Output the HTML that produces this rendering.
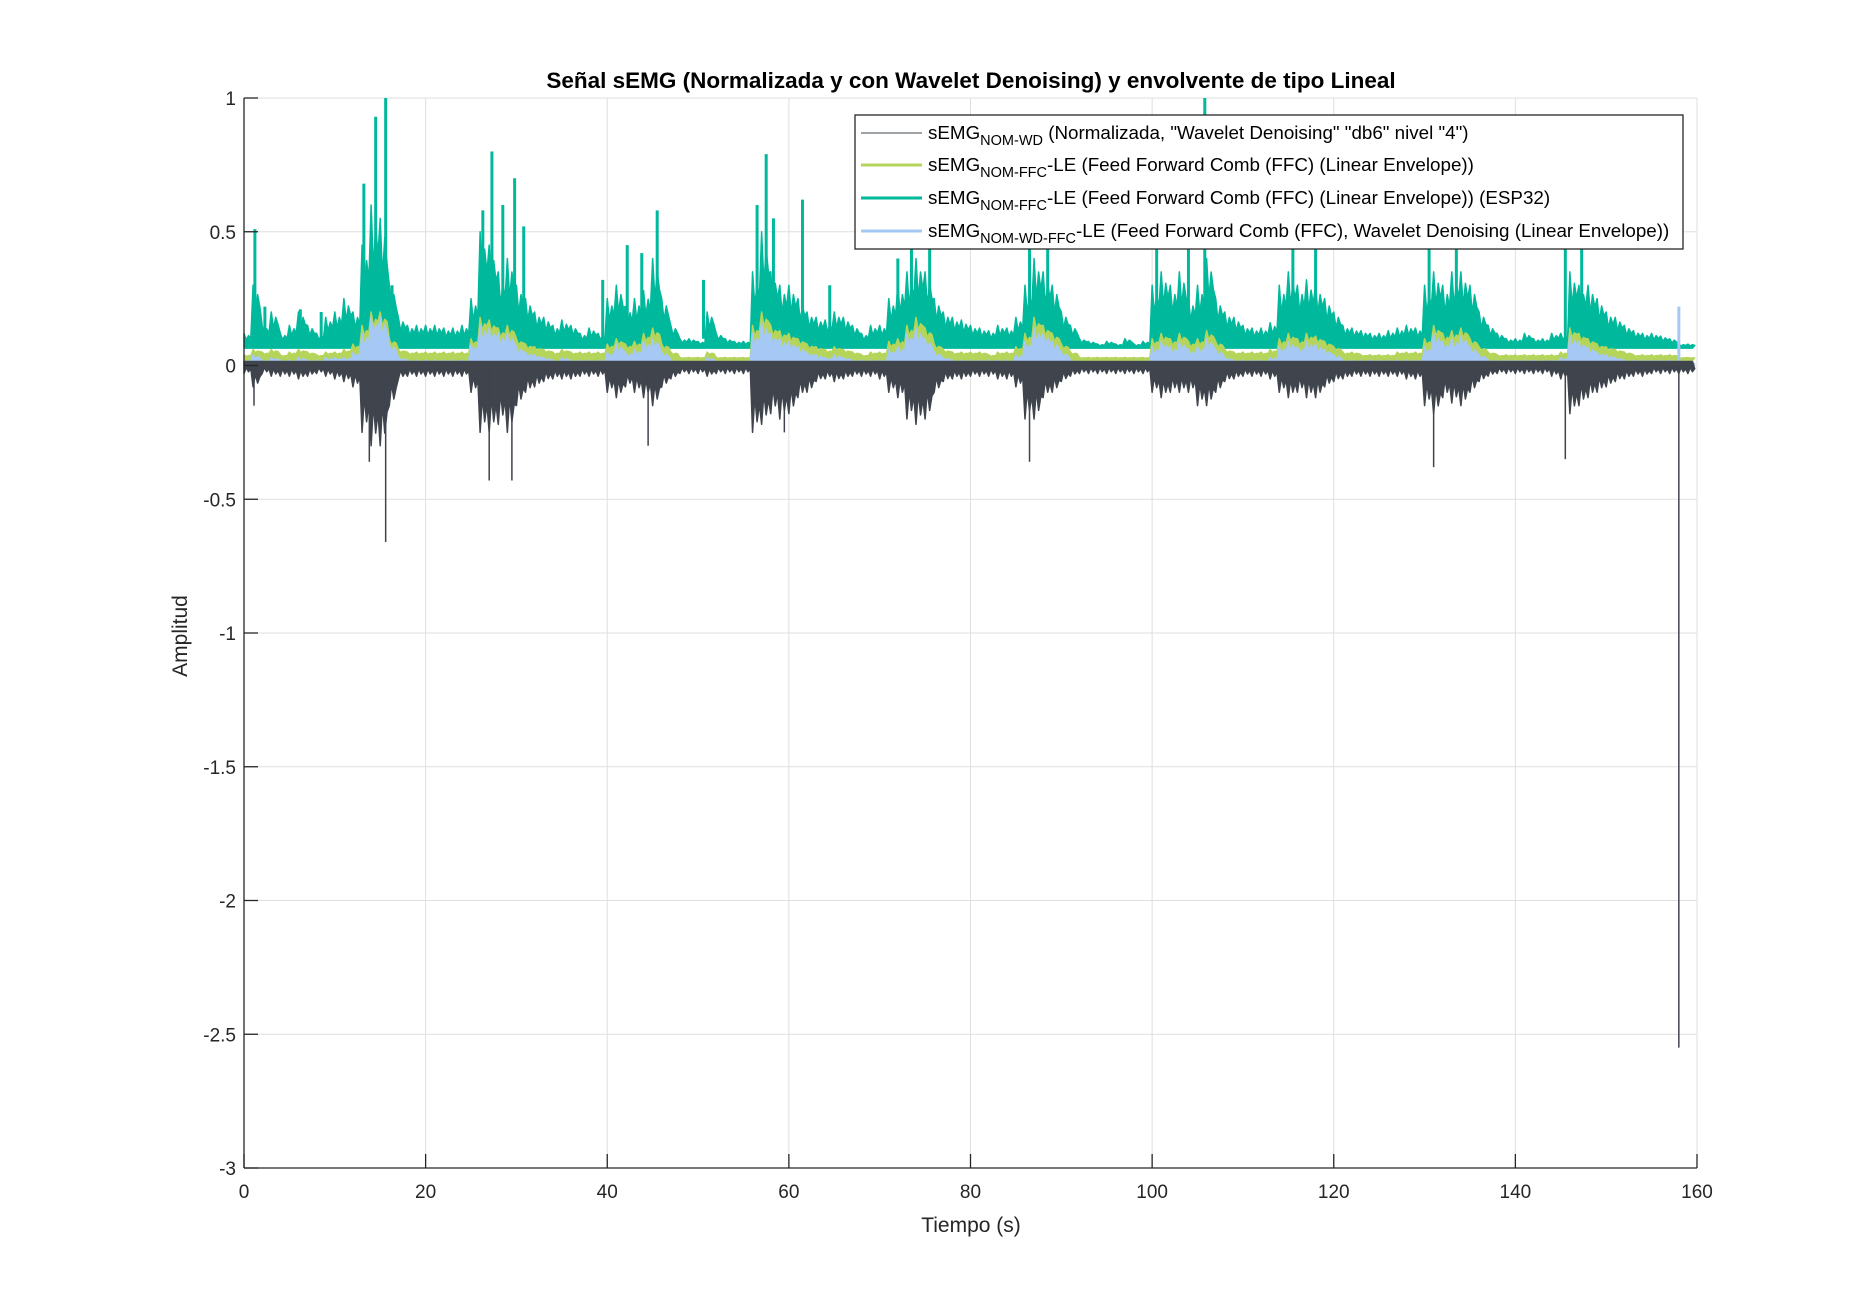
<!DOCTYPE html>
<html><head><meta charset="utf-8"><style>
html,body{margin:0;padding:0;background:#fff}
svg{display:block;font-family:"Liberation Sans",Arial,sans-serif}
</style></head><body>
<svg id="chart" width="1875" height="1313" viewBox="0 0 1875 1313" xmlns="http://www.w3.org/2000/svg">
<rect width="1875" height="1313" fill="#fff"/>
<g id="grid"></g>
<g id="series"></g>
<g id="axes"></g>
<text x="971" y="88" text-anchor="middle" font-size="22.5" font-weight="bold" fill="#000">Señal sEMG (Normalizada y con Wavelet Denoising) y envolvente de tipo Lineal</text>
<text x="971" y="1232" text-anchor="middle" font-size="21" fill="#262626">Tiempo (s)</text>
<text transform="translate(187,636) rotate(-90)" text-anchor="middle" font-size="21" fill="#262626">Amplitud</text>
<g>
<rect x="855" y="115" width="828" height="134" fill="#fff" stroke="#262626" stroke-width="1.3"/>
<g>
<line x1="861" y1="133" x2="922" y2="133" stroke="#3f444d" stroke-width="1"/>
<text x="928" y="139" font-size="18.8" fill="#000">sEMG<tspan dy="6" font-size="14.5">NOM-WD</tspan><tspan dy="-6"> (Normalizada, "Wavelet Denoising" "db6" nivel "4")</tspan></text></g>
<g>
<line x1="861" y1="165" x2="922" y2="165" stroke="#b4d55a" stroke-width="3"/>
<text x="928" y="171" font-size="18.8" fill="#000">sEMG<tspan dy="6" font-size="14.5">NOM-FFC</tspan><tspan dy="-6">-LE (Feed Forward Comb (FFC) (Linear Envelope))</tspan></text></g>
<g>
<line x1="861" y1="198" x2="922" y2="198" stroke="#00b89b" stroke-width="3"/>
<text x="928" y="204" font-size="18.8" fill="#000">sEMG<tspan dy="6" font-size="14.5">NOM-FFC</tspan><tspan dy="-6">-LE (Feed Forward Comb (FFC) (Linear Envelope)) (ESP32)</tspan></text></g>
<g>
<line x1="861" y1="231" x2="922" y2="231" stroke="#a6c8f5" stroke-width="3"/>
<text x="928" y="237" font-size="18.8" fill="#000">sEMG<tspan dy="6" font-size="14.5">NOM-WD-FFC</tspan><tspan dy="-6">-LE (Feed Forward Comb (FFC), Wavelet Denoising (Linear Envelope))</tspan></text></g>
</g>
</svg>
<script>
const xTicks=[0,20,40,60,80,100,120,140,160];
const yTicks=[1,0.5,0,-0.5,-1,-1.5,-2,-2.5,-3];
const yTickLabels=["1","0.5","0","-0.5","-1","-1.5","-2","-2.5","-3"];
// per-second upper envelope of ESP32 teal series
const tealUpper=[.12,.3,.15,.2,.12,.15,.2,.15,.12,.18,.2,.25,.2,.45,.6,.55,.3,.18,.15,.15,.15,.15,.14,.14,.15,.25,.5,.45,.35,.4,.3,.25,.2,.18,.15,.17,.15,.12,.14,.12,.25,.3,.22,.25,.28,.4,.25,.15,.1,.1,.09,.2,.12,.1,.09,.09,.35,.5,.35,.3,.3,.25,.2,.18,.17,.2,.18,.15,.12,.15,.15,.25,.3,.35,.4,.35,.25,.2,.18,.17,.15,.14,.13,.15,.14,.18,.3,.4,.35,.3,.2,.15,.1,.09,.08,.09,.08,.1,.08,.09,.3,.35,.3,.35,.25,.3,.4,.25,.2,.18,.15,.14,.14,.16,.3,.35,.3,.32,.3,.25,.2,.15,.14,.13,.12,.12,.13,.14,.15,.14,.3,.35,.3,.35,.35,.3,.2,.15,.12,.1,.1,.12,.1,.1,.12,.12,.35,.3,.3,.25,.2,.18,.15,.13,.12,.12,.11,.1,.08,.08];
const tealFloor=0.065;
const tealSpikeT=[1.2,2.3,6.2,8.5,13.2,14.5,15.6,16.3,26.3,27.3,28.5,29.8,30.8,39.5,42.2,43.8,45.5,50.6,56.5,57.5,58.3,61.5,64.5,72,73.5,75.5,86.5,88.5,100.5,104,105.8,115.5,118,130.5,133.5,145.5,147.3];
const tealSpikeV=[.51,.22,.21,.2,.68,.93,1.0,.3,.58,.8,.6,.7,.52,.32,.45,.42,.58,.32,.6,.79,.55,.62,.3,.4,.5,.48,.5,.45,.48,.48,1.0,.5,.48,.47,.5,.48,.45];
// green FFC-LE upper
const greenUpper=[.04,.06,.05,.06,.04,.05,.06,.05,.04,.05,.05,.06,.08,.15,.2,.2,.1,.06,.05,.05,.05,.05,.05,.05,.05,.1,.18,.17,.14,.15,.1,.08,.07,.06,.05,.06,.05,.05,.05,.05,.08,.1,.08,.09,.12,.14,.08,.05,.03,.03,.03,.05,.03,.03,.03,.03,.15,.2,.15,.13,.12,.1,.08,.07,.06,.07,.06,.05,.04,.05,.05,.09,.1,.15,.18,.14,.08,.06,.05,.05,.05,.05,.04,.05,.05,.07,.12,.18,.15,.12,.08,.05,.03,.03,.03,.03,.03,.03,.03,.03,.1,.12,.1,.12,.09,.1,.13,.09,.06,.05,.05,.05,.05,.06,.1,.12,.1,.12,.11,.09,.07,.05,.05,.04,.04,.04,.04,.05,.05,.05,.1,.15,.12,.13,.14,.1,.07,.05,.04,.04,.04,.04,.04,.04,.04,.05,.14,.12,.1,.08,.07,.06,.05,.04,.04,.04,.04,.04,.03,.03];
const greenFloor=0.02;
// blue WD-FFC-LE upper
const blueUpper=[.02,.04,.02,.03,.02,.02,.03,.02,.02,.03,.03,.03,.05,.12,.18,.18,.08,.03,.02,.02,.02,.02,.02,.02,.02,.08,.15,.14,.12,.12,.07,.05,.04,.03,.02,.03,.02,.02,.02,.02,.05,.08,.05,.06,.09,.1,.05,.02,.01,.01,.01,.03,.01,.01,.01,.01,.12,.16,.12,.1,.09,.07,.05,.04,.03,.04,.03,.02,.02,.02,.02,.06,.07,.12,.14,.1,.05,.03,.02,.02,.02,.02,.02,.02,.02,.04,.09,.14,.12,.09,.05,.02,.01,.01,.01,.01,.01,.01,.01,.01,.07,.09,.07,.09,.06,.07,.1,.06,.03,.02,.02,.02,.02,.03,.07,.09,.07,.09,.08,.06,.04,.02,.02,.02,.02,.02,.02,.02,.02,.02,.07,.12,.09,.1,.11,.07,.04,.02,.02,.02,.02,.02,.02,.02,.02,.03,.11,.09,.07,.05,.04,.03,.02,.02,.02,.02,.02,.02,.01,.01];
const blueSpikeT=[158];
const blueSpikeV=[0.22];
// dark WD signal negative extent
const darkNeg=[.03,.08,.03,.04,.04,.04,.05,.04,.03,.04,.05,.06,.08,.25,.3,.3,.15,.05,.04,.04,.04,.04,.04,.04,.04,.1,.25,.25,.22,.25,.15,.1,.08,.06,.05,.05,.05,.04,.04,.04,.1,.12,.08,.1,.12,.15,.08,.05,.03,.03,.03,.04,.03,.03,.03,.03,.25,.22,.18,.2,.18,.12,.1,.06,.05,.06,.05,.04,.04,.04,.05,.1,.12,.2,.22,.2,.1,.06,.05,.05,.04,.04,.04,.05,.05,.08,.2,.2,.12,.1,.06,.04,.03,.03,.03,.03,.03,.03,.03,.03,.1,.12,.1,.1,.1,.15,.15,.1,.06,.05,.04,.04,.04,.05,.1,.12,.1,.12,.12,.08,.06,.05,.04,.04,.04,.04,.04,.04,.05,.05,.15,.18,.12,.14,.15,.1,.06,.04,.03,.03,.03,.03,.03,.03,.04,.05,.18,.15,.12,.1,.08,.06,.05,.04,.04,.03,.03,.03,.03,.03];
const darkPos=0.015;
const darkSpikeT=[1.1,13.8,15.6,27,29.5,44.5,59.5,86.5,131,145.5,158];
const darkSpikeV=[-.15,-.36,-.66,-.43,-.43,-.3,-.25,-.36,-.38,-.35,-2.55];

const X0=244,X1=1697,YT=98,YB=1168;
const xs=t=>X0+(t-0)/(160-0)*(X1-X0);
const ys=v=>YT+(1-v)/(1-(-3))*(YB-YT);
const NS="http://www.w3.org/2000/svg";
function mk(tag,attrs,parent){const e=document.createElementNS(NS,tag);for(const k in attrs)e.setAttribute(k,attrs[k]);parent.appendChild(e);return e;}
const grid=document.getElementById('grid'),axes=document.getElementById('axes'),ser=document.getElementById('series');
xTicks.forEach(t=>{
  const l=mk('line',{x1:xs(t),x2:xs(t),y1:YT,y2:YB,stroke:'#dfdfdf','stroke-width':1},grid);
  
  
  mk('line',{x1:xs(t),x2:xs(t),y1:YB,y2:YB-14,stroke:'#262626','stroke-width':1.3},axes);
  const tx=mk('text',{x:xs(t),y:1198,'text-anchor':'middle','font-size':19,fill:'#262626'},axes);
  tx.textContent=t;
  
  
});
yTicks.forEach((v,i)=>{
  const l=mk('line',{x1:X0,x2:X1,y1:ys(v),y2:ys(v),stroke:'#dfdfdf','stroke-width':1},grid);
  
  
  mk('line',{x1:X0,x2:X0+14,y1:ys(v),y2:ys(v),stroke:'#262626','stroke-width':1.3},axes);
  const tx=mk('text',{x:236,y:ys(v)+7,'text-anchor':'end','font-size':19,fill:'#262626'},axes);
  tx.textContent=yTickLabels[i];
  
  
});
mk('line',{x1:X0,x2:X0,y1:YT,y2:YB,stroke:'#262626','stroke-width':1.3},axes);
mk('line',{x1:X0,x2:X1,y1:YB,y2:YB,stroke:'#262626','stroke-width':1.3},axes);

function band(upper,lowerFn,color,name,mix){
  let pts=[];
  upper.forEach((v,i)=>{
    const lo=lowerFn(i);
    pts.push(xs(i)+','+ys(v));
    pts.push(xs(i+0.25)+','+ys(v*mix+lo*(1-mix)));
    pts.push(xs(i+0.5)+','+ys(v*0.85+lo*0.15));
    pts.push(xs(i+0.75)+','+ys(v*(mix+0.1)+lo*(0.9-mix)));
  });
  for(let i=upper.length-1;i>=0;i--){pts.push(xs(i+0.5)+','+ys(lowerFn(i)));pts.push(xs(i)+','+ys(lowerFn(i)));}
  const p=mk('polygon',{points:pts.join(' '),fill:color,stroke:color,'stroke-width':1.5,'stroke-linejoin':'round'},ser);
  
  
}
function spikes(T,V,base,color,w,name){
  T.forEach((t,i)=>{
    const l=mk('line',{x1:xs(t),x2:xs(t),y1:ys(base),y2:ys(V[i]),stroke:color,'stroke-width':w},ser);
    
    
  });
}
band(tealUpper,()=>tealFloor,'#00b89b','teal-esp32-envelope',0.55);
spikes(tealSpikeT,tealSpikeV,0.1,'#00b89b',3,'teal-spike');
band(greenUpper,()=>greenFloor,'#b4d55a','green-ffc-envelope',0.7);
band(blueUpper,()=>0,'#a6c8f5','blue-wd-ffc-envelope',0.6);
spikes(blueSpikeT,blueSpikeV,0,'#a6c8f5',3,'blue-spike');
band(darkNeg.map(v=>-v),i=>darkPos,'#3f444d','dark-wd-signal',0.5);
spikes(darkSpikeT,darkSpikeV,0,'#3f444d',1.5,'dark-spike');
</script>
</body></html>
